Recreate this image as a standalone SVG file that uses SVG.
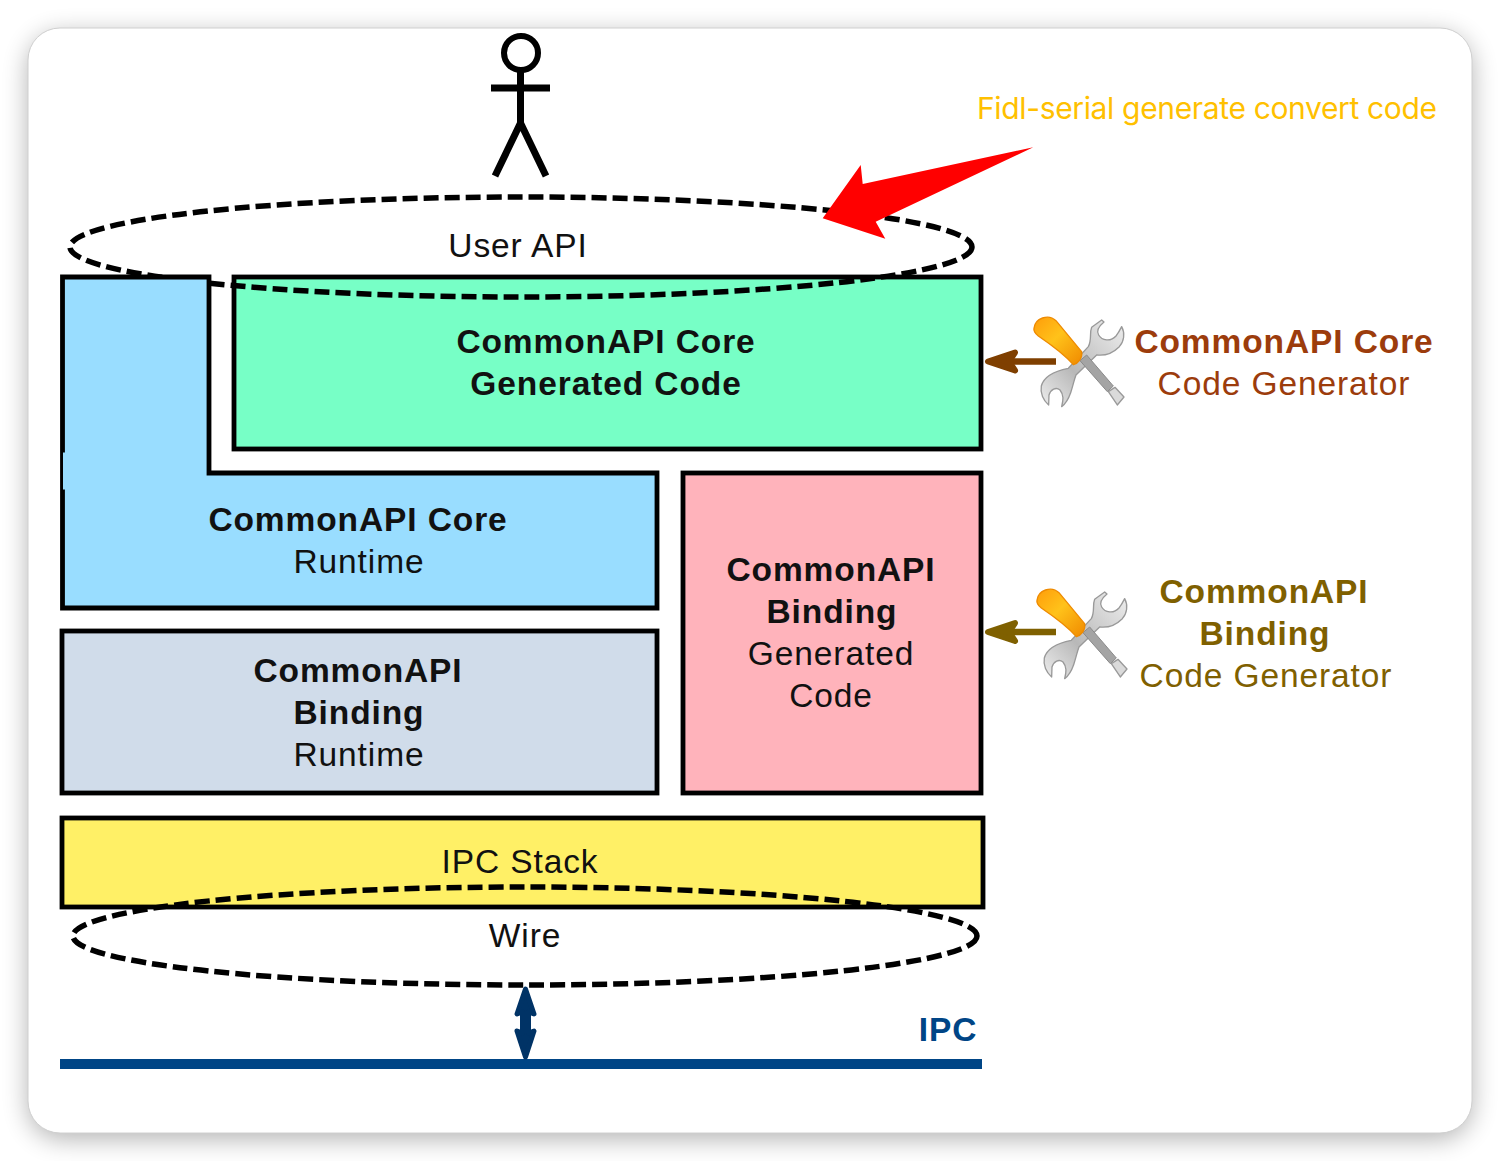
<svg xmlns="http://www.w3.org/2000/svg" width="1500" height="1161" viewBox="0 0 1500 1161">
<style>
text{font-family:"Liberation Sans",Arial,sans-serif;font-size:33.5px;text-anchor:middle;fill:#111;letter-spacing:.9px}
.b{font-weight:700}
.box{stroke:#000;stroke-width:4.800}
.dash{fill:none;stroke:#000;stroke-width:5.500;stroke-dasharray:15 6}
</style>
<defs>
<filter id="sh" x="-5%" y="-5%" width="110%" height="110%"><feGaussianBlur stdDeviation="13"/></filter>
<linearGradient id="hdl" x1="0" y1="0" x2="1" y2="1"><stop offset="0" stop-color="#ff9d0a"/><stop offset=".45" stop-color="#ffc21a"/><stop offset="1" stop-color="#f08a00"/></linearGradient>
<linearGradient id="met" x1="0" y1="1" x2="1" y2="0"><stop offset="0" stop-color="#eeeeee"/><stop offset=".4" stop-color="#b8b8b8"/><stop offset="1" stop-color="#efefef"/></linearGradient>
<g id="tools">
<path d="M335 82L365 60L372 66C355 80 348 92 356 105C366 122 392 126 408 108C416 98 420 90 425 80C436 100 432 125 418 140C400 158 375 168 350 165L288 225C282 240 280 255 272 278C265 298 255 312 245 320C250 300 252 285 240 270C228 260 212 268 207 285L206 315C190 302 180 280 184 258C190 235 215 215 265 205L325 140C336 120 328 100 335 82Z" fill="url(#met)" stroke="#999" stroke-width="4" stroke-linejoin="round"/>
<path d="M300 182L320 165L400 258L382 275Z" fill="#a4a4a4" stroke="#8a8a8a" stroke-width="3"/>
<path d="M385 275L405 262L432 291L412 315Z" fill="#dadada" stroke="#999" stroke-width="4" stroke-linejoin="round"/>
<path d="M162 85C165 55 205 40 228 62L305 155C308 175 295 190 280 194C250 160 200 125 175 108C165 100 160 95 162 85Z" fill="url(#hdl)" stroke="#ee8a00" stroke-width="4"/>
</g>
<g id="arr"><path d="M71 0H10" fill="none" stroke-width="6.500"/><path d="M3 0L30 -9L24 0L30 9Z" stroke-width="6" stroke-linejoin="round"/></g>
</defs>
<rect x="28" y="34" width="1444" height="1105" rx="34" fill="#000" opacity=".3" filter="url(#sh)"/>
<rect x="28" y="28" width="1444" height="1105" rx="32" fill="#fff" stroke="#d0d0d0" stroke-width="1"/>

<g id="user" fill="none" stroke="#000" stroke-width="7">
<circle cx="521" cy="53" r="17" stroke-width="6"/>
<path d="M491 88H550M520.500 70V123M520.500 123L495 176M520.500 123L546 176"/>
</g>

<g id="core-generated"><rect class="box" x="234" y="277" width="747" height="172" fill="#77ffc6"/>
<text class="b" x="606" y="353">CommonAPI Core</text><text class="b" x="606" y="395">Generated Code</text></g>

<ellipse id="user-api-ellipse" class="dash" cx="521" cy="247" rx="451" ry="50"/>
<text id="user-api" x="518" y="257">User API</text>

<g id="core-runtime"><path class="box" d="M62.500 277H209V473H657V608H62.500Z" fill="#99ddff"/>
<rect x="63" y="452.500" width="3" height="37" fill="#99ddff"/>
<text class="b" x="358" y="531">CommonAPI Core</text><text x="359" y="573">Runtime</text></g>

<g id="binding-runtime"><rect class="box" x="62" y="631" width="595" height="162" fill="#d0dcea"/>
<text class="b" x="358" y="682">CommonAPI</text><text class="b" x="359" y="724">Binding</text><text x="359" y="766">Runtime</text></g>

<g id="binding-generated"><rect class="box" x="683" y="473" width="298" height="320" fill="#ffb3bb"/>
<text class="b" x="831" y="581">CommonAPI</text><text class="b" x="832" y="623">Binding</text><text x="831" y="665">Generated</text><text x="831" y="707">Code</text></g>

<g id="ipc-stack"><rect class="box" x="62" y="818" width="921" height="89" fill="#fff066"/>
<text x="520" y="873">IPC Stack</text></g>
<ellipse id="wire-ellipse" class="dash" cx="525" cy="936" rx="452" ry="49"/>
<text id="wire" x="525" y="947">Wire</text>

<g id="ipc"><rect x="60" y="1059" width="922" height="10" fill="#004586"/>
<text class="b" x="948" y="1041" style="fill:#004586">IPC</text></g>

<g id="core-generator"><use href="#tools" transform="translate(980 300) scale(.3333)"/>
<text class="b" style="fill:#9c3c0c" x="1284" y="353">CommonAPI Core</text><text style="fill:#9c3c0c" x="1284" y="395">Code Generator</text></g>

<g id="binding-generator"><use href="#tools" transform="translate(983 572) scale(.3333)"/>
<text class="b" style="fill:#7f6000" x="1264" y="603">CommonAPI</text><text class="b" style="fill:#7f6000" x="1265" y="645">Binding</text><text style="fill:#7f6000" x="1266" y="687">Code Generator</text></g>

<g id="connectors">
<use href="#arr" transform="translate(985 361.500)" fill="#7f3f00" stroke="#7f3f00"/>
<use href="#arr" transform="translate(985 632)" fill="#7f6000" stroke="#7f6000"/>
<path d="M525.500 989L534 1014L528.500 1012V1033L534 1031L525.500 1057L517 1031L522.500 1033V1012L517 1014Z" fill="#003366" stroke="#003366" stroke-width="5" stroke-linejoin="round"/>
<polygon points="1033.300,147.300 862.700,184 860.700,165 822.700,218.300 885.300,238.700 875.700,221.700" fill="#f00"/>
</g>
<text id="note" x="1207" y="119" style="font-family:'Inter','Noto Sans',sans-serif;font-size:30px;fill:#ffc000;letter-spacing:0" textLength="460">Fidl-serial generate convert code</text>
</svg>
